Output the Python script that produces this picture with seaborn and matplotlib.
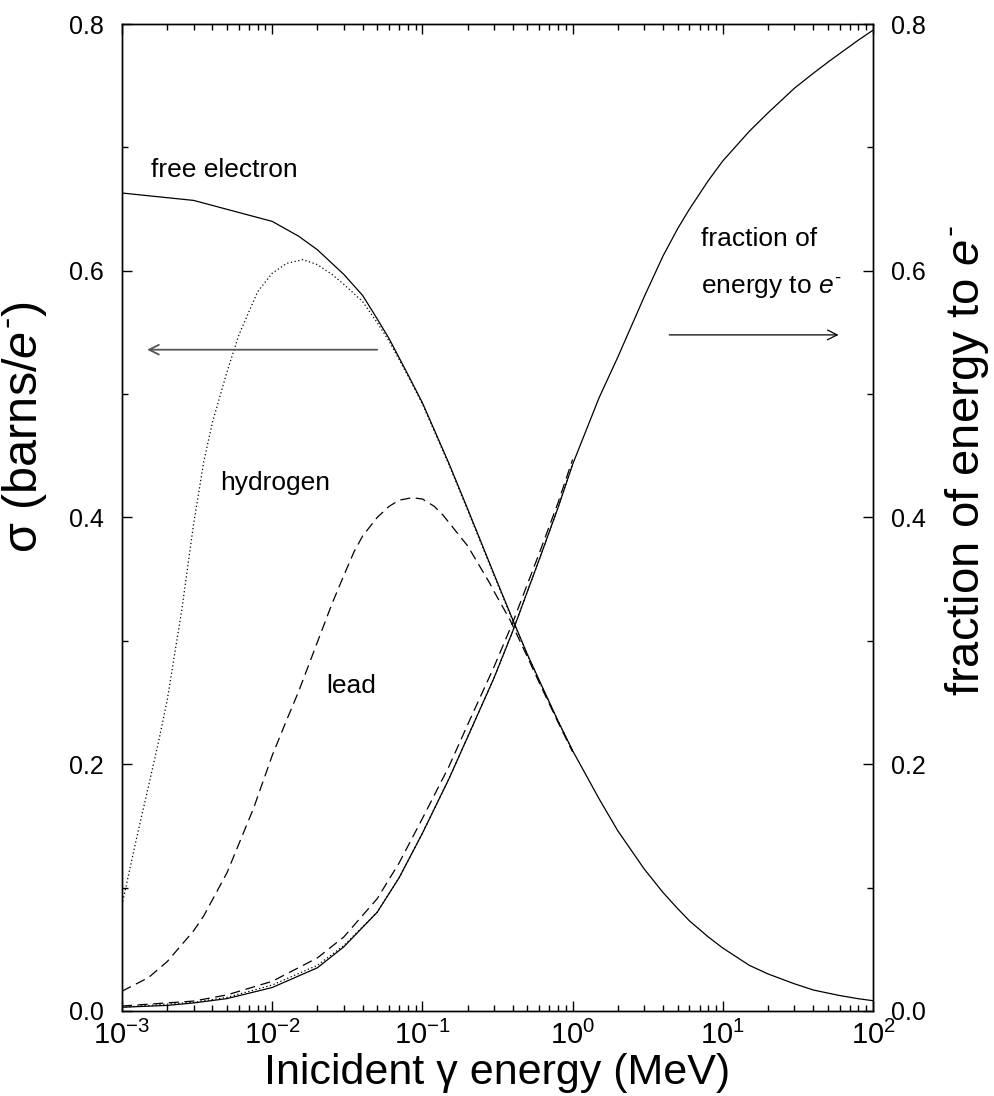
import numpy as np
import pandas as pd
import matplotlib
matplotlib.use("Agg")
import matplotlib.pyplot as plt
from matplotlib.ticker import MultipleLocator, FormatStrFormatter, LogLocator, NullFormatter
import seaborn as sns

# --- data ---
# Compton cross section per electron (barns/e-)
E_free = [0.001, 0.003, 0.01, 0.015, 0.02, 0.03, 0.04, 0.05, 0.06, 0.08, 0.1, 0.15, 0.2, 0.3,
          0.4, 0.5, 0.6, 0.8, 1, 1.5, 2, 3, 4, 5, 6, 8, 10, 15, 20, 30, 40, 50, 60, 80, 100]
sig_free = [0.663, 0.657, 0.640, 0.628, 0.617, 0.597, 0.580, 0.561, 0.545, 0.516, 0.493, 0.444,
            0.407, 0.354, 0.317, 0.289, 0.268, 0.235, 0.211, 0.172, 0.146, 0.115, 0.096, 0.083,
            0.073, 0.060, 0.051, 0.037, 0.030, 0.022, 0.017, 0.0145, 0.0125, 0.0099, 0.0083]

E_hyd = [0.001, 0.00106, 0.00125, 0.0015, 0.00175, 0.002, 0.0025, 0.003, 0.0035, 0.004, 0.005,
         0.006, 0.008, 0.01, 0.0125, 0.016, 0.02, 0.025, 0.03, 0.04, 0.05, 0.06, 0.08, 0.1, 0.15,
         0.2, 0.3, 0.4, 0.5, 0.6, 0.8, 1.0]
sig_hyd = [0.086, 0.100, 0.140, 0.182, 0.218, 0.252, 0.325, 0.395, 0.445, 0.477, 0.518, 0.548,
           0.583, 0.598, 0.606, 0.609, 0.605, 0.597, 0.589, 0.575, 0.558, 0.543, 0.515, 0.492,
           0.443, 0.406, 0.353, 0.316, 0.289, 0.267, 0.235, 0.211]

E_lead = [0.001, 0.0015, 0.002, 0.003, 0.0035, 0.005, 0.0075, 0.01, 0.0125, 0.015, 0.02, 0.025,
          0.03, 0.035, 0.04, 0.05, 0.06, 0.07, 0.085, 0.1, 0.12, 0.137, 0.15, 0.2, 0.28, 0.3,
          0.383, 0.5, 0.6, 0.8, 1.0]
sig_lead = [0.016, 0.027, 0.040, 0.065, 0.077, 0.112, 0.164, 0.207, 0.236, 0.259, 0.299, 0.330,
            0.353, 0.372, 0.385, 0.400, 0.409, 0.414, 0.416, 0.415, 0.409, 0.402, 0.396, 0.377,
            0.347, 0.340, 0.317, 0.287, 0.266, 0.234, 0.210]

# fraction of photon energy given to the electron
E_frac = [0.001, 0.002, 0.003, 0.005, 0.01, 0.02, 0.03, 0.05, 0.07, 0.1, 0.15, 0.2, 0.3, 0.4,
          0.5, 0.6, 0.8, 1, 1.5, 2, 3, 4, 5, 6, 8, 10, 15, 20, 30, 40, 50, 60, 80, 100]
frac_free = [0.003, 0.0045, 0.0065, 0.010, 0.019, 0.035, 0.052, 0.080, 0.108, 0.144, 0.188,
             0.222, 0.270, 0.308, 0.340, 0.366, 0.408, 0.443, 0.497, 0.530, 0.579, 0.612, 0.634,
             0.650, 0.673, 0.689, 0.713, 0.728, 0.748, 0.760, 0.769, 0.776, 0.787, 0.795]

E_frac_b = [0.001, 0.003, 0.005, 0.01, 0.02, 0.03, 0.05, 0.07, 0.1, 0.15, 0.2, 0.3, 0.4, 0.5,
            0.6, 0.8, 1.0]
frac_lead = [0.004, 0.008, 0.013, 0.024, 0.043, 0.060, 0.091, 0.120, 0.156, 0.198, 0.232,
             0.279, 0.315, 0.346, 0.371, 0.412, 0.447]
frac_hyd = [0.003, 0.007, 0.011, 0.021, 0.037, 0.053, 0.080, 0.108, 0.144, 0.188, 0.222,
            0.270, 0.308, 0.340, 0.366, 0.408, 0.443]

sns.set_style("ticks")
plt.rcParams['font.family'] = ['Liberation Sans', 'DejaVu Sans']
plt.rcParams['mathtext.fontset'] = 'custom'
plt.rcParams['mathtext.rm'] = 'Liberation Sans'
plt.rcParams['mathtext.it'] = 'Liberation Sans:italic'
plt.rcParams['mathtext.default'] = 'regular'
plt.rcParams['axes.unicode_minus'] = False
for key in ['text.color', 'axes.labelcolor', 'xtick.color', 'ytick.color', 'axes.edgecolor']:
    plt.rcParams[key] = 'k'

fig = plt.figure(figsize=(9.95, 10.96), dpi=100)
ax = fig.add_axes([0.1226, 0.0776, 0.7548, 0.9005])
ax.set_xscale('log')
ax2 = ax.twinx()

lw = 0.9
dotted = (0, (1, 2))
dashed = (0, (8, 4.5))

# cross sections (left axis)
sns.lineplot(x=E_free, y=sig_free, ax=ax, color='k', lw=lw, sort=False, estimator=None)
sns.lineplot(x=E_hyd, y=sig_hyd, ax=ax, color='k', lw=lw, linestyle=dotted, sort=False, estimator=None)
sns.lineplot(x=E_lead, y=sig_lead, ax=ax, color='k', lw=lw, linestyle=dashed, sort=False, estimator=None)

# energy fraction (right axis)
sns.lineplot(x=E_frac, y=frac_free, ax=ax2, color='k', lw=lw, sort=False, estimator=None)
sns.lineplot(x=E_frac_b, y=frac_hyd, ax=ax2, color='k', lw=lw, linestyle=dotted, sort=False, estimator=None)
sns.lineplot(x=E_frac_b, y=frac_lead, ax=ax2, color='k', lw=lw, linestyle=dashed, sort=False, estimator=None)

for a in (ax, ax2):
    a.set_xlim(1e-3, 1e2)
    a.set_ylim(0, 0.8)
    a.yaxis.set_major_locator(MultipleLocator(0.2))
    a.yaxis.set_minor_locator(MultipleLocator(0.1))
    a.yaxis.set_major_formatter(FormatStrFormatter('%.1f'))
    for s in a.spines.values():
        s.set_linewidth(1.0)
        s.set_color('k')

ax.xaxis.set_major_locator(LogLocator(base=10, numticks=10))
ax.xaxis.set_minor_locator(LogLocator(base=10, subs=np.arange(2, 10), numticks=20))
ax.xaxis.set_minor_formatter(NullFormatter())

ax.tick_params(axis='both', which='both', direction='in', top=True, right=False,
               color='k', width=1.0)
ax.tick_params(axis='both', which='major', length=7.5)
ax.tick_params(axis='both', which='minor', length=4.5)
ax.tick_params(axis='y', labelsize=18, pad=13)
ax.tick_params(axis='x', labelsize=21, pad=7)
ax2.tick_params(axis='y', which='both', direction='in', left=False, right=True,
                labelsize=18, pad=13, color='k', width=1.0)
ax2.tick_params(axis='y', which='major', length=7.5)
ax2.tick_params(axis='y', which='minor', length=4.5)

ax.set_xlabel('Inicident γ energy (MeV)', fontsize=31, labelpad=2)
ax.set_ylabel('σ (barns/$\\mathit{e}^{\\text{-}}$)', fontsize=35)
ax2.set_ylabel('fraction of energy to $\\mathit{e}^{\\text{-}}$', fontsize=34)
ax.yaxis.set_label_coords(-0.097, 0.592)
ax2.yaxis.set_label_coords(1.093, 0.558)

# annotations
ax.text(1.55e-3, 0.676, 'free electron', fontsize=19)
ax.text(4.5e-3, 0.422, 'hydrogen', fontsize=19)
ax.text(2.28e-2, 0.258, 'lead', fontsize=19)
ax.text(7.2, 0.620, 'fraction of', fontsize=19)
ax.text(7.2, 0.582, 'energy to $\\mathit{e}^{\\text{-}}$', fontsize=19)

ax.annotate('', xy=(1.47e-3, 0.536), xytext=(0.05, 0.536),
            arrowprops=dict(arrowstyle='->, head_length=0.7, head_width=0.35',
                            color='#555555', lw=1.3, shrinkA=0, shrinkB=0))
ax.annotate('', xy=(59, 0.548), xytext=(4.4, 0.548),
            arrowprops=dict(arrowstyle='->, head_length=0.7, head_width=0.35',
                            color='k', lw=0.9, shrinkA=0, shrinkB=0))

fig.savefig('out.png', dpi=100)
